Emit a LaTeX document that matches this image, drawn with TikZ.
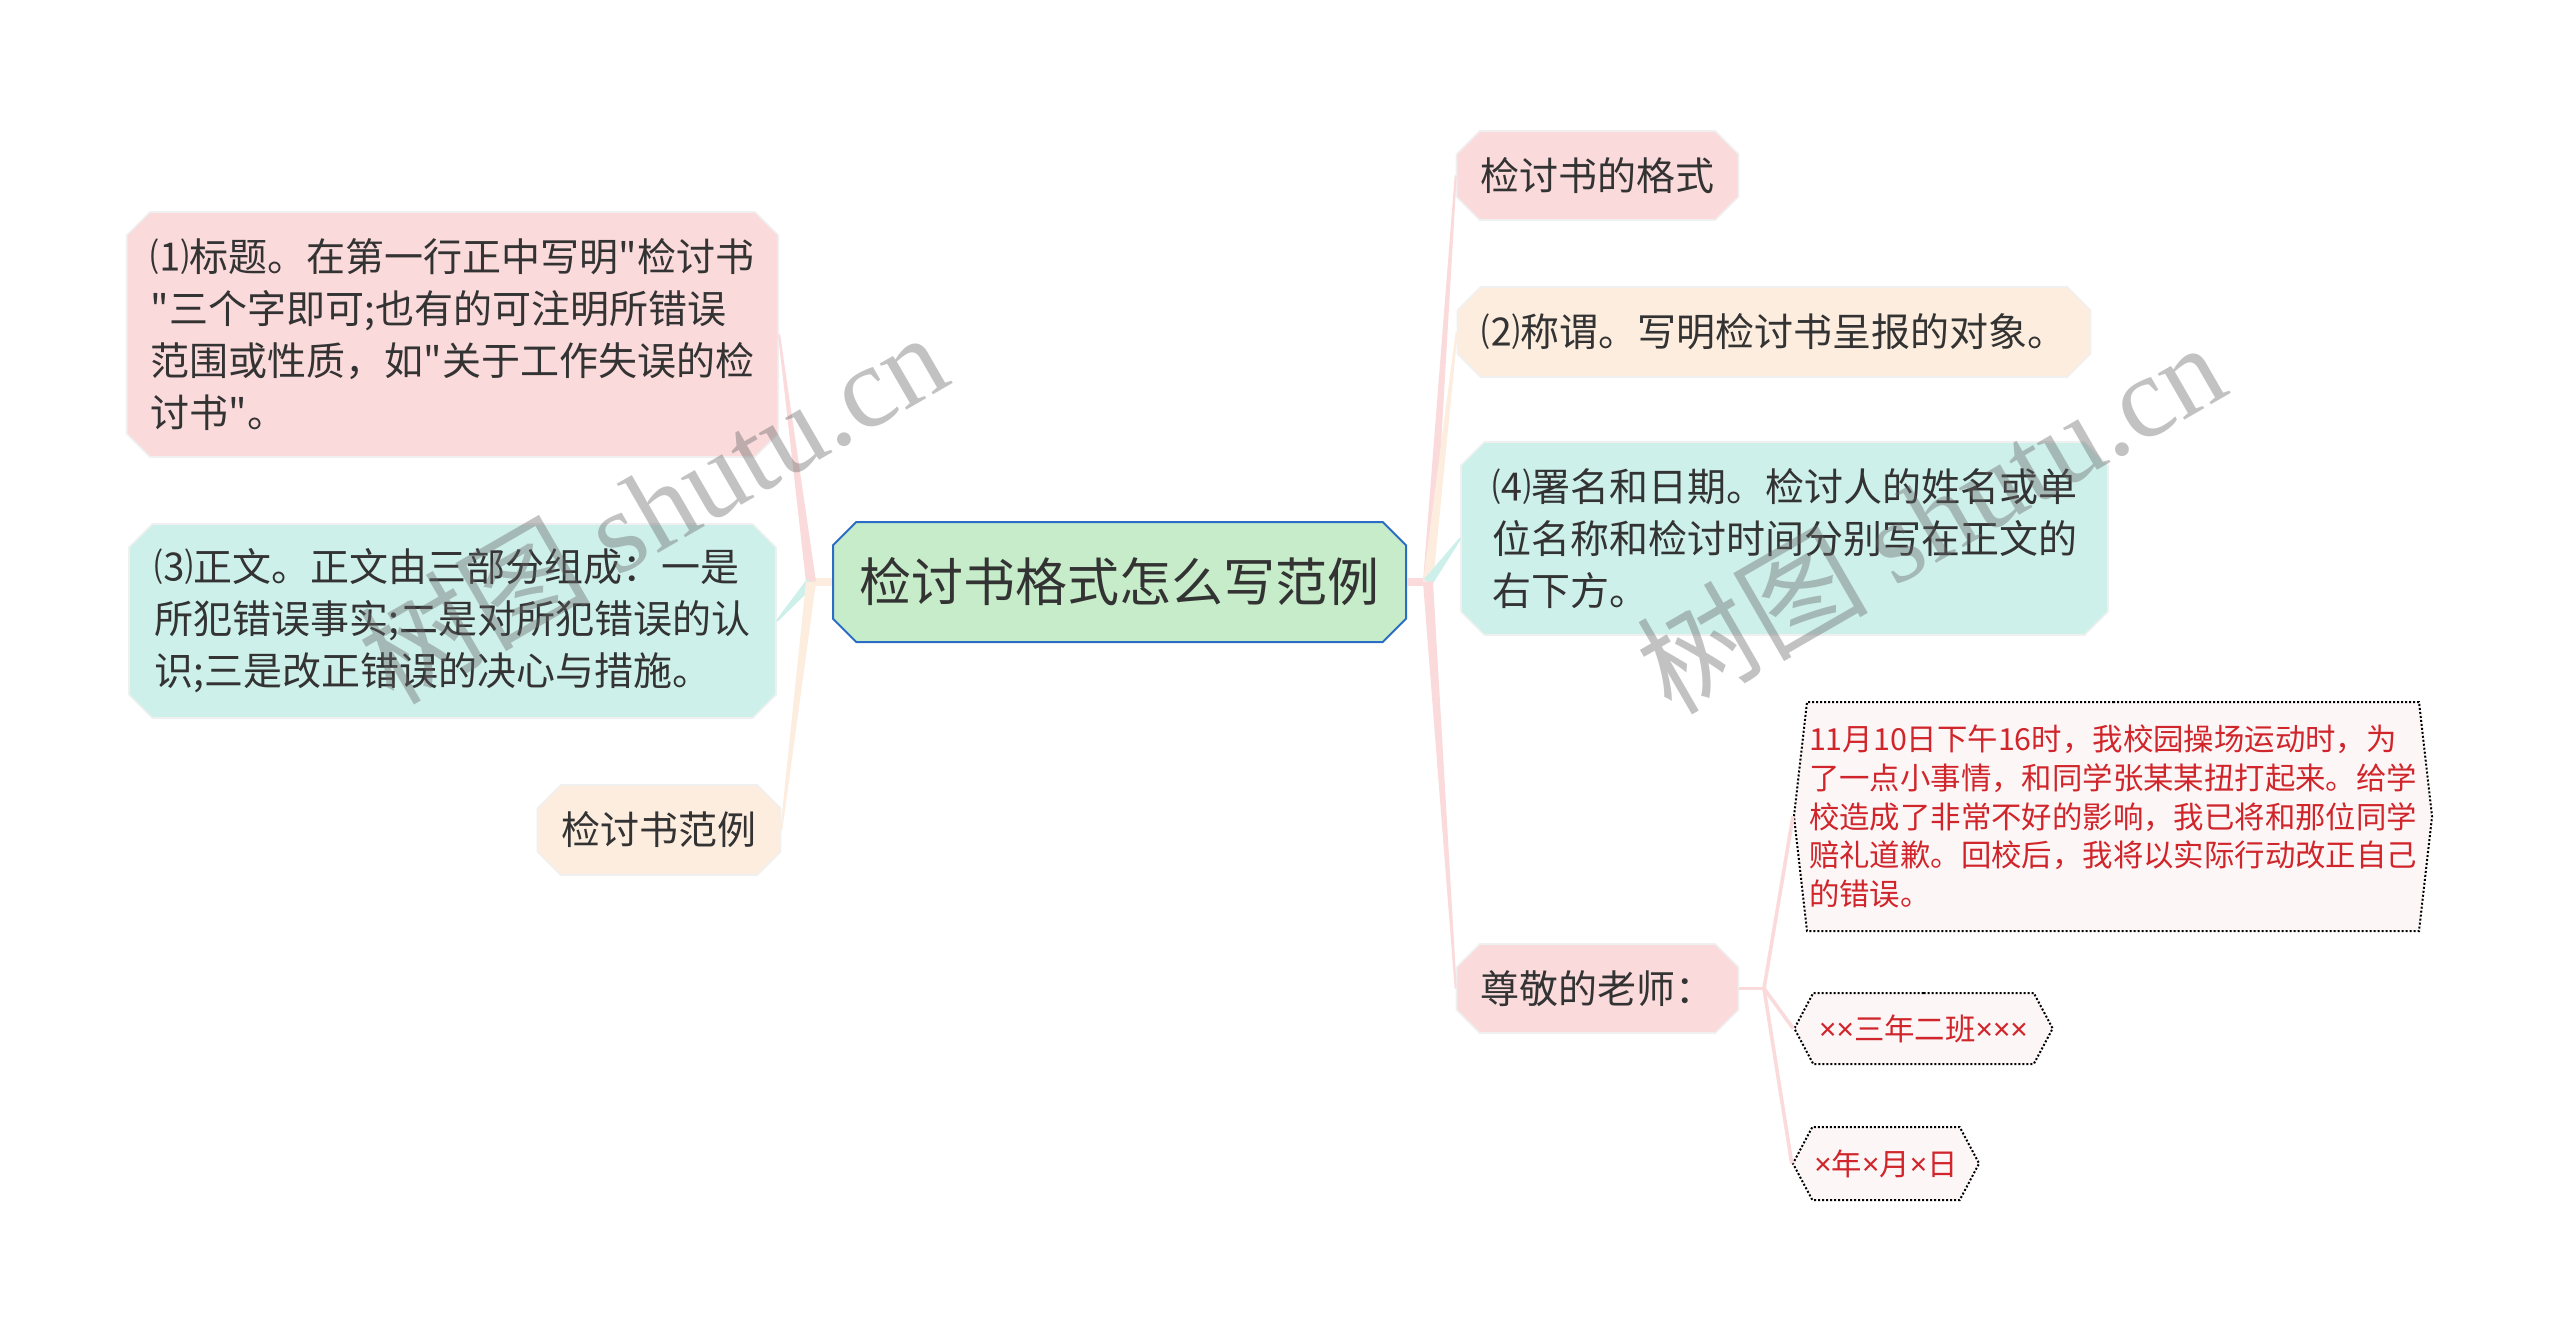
\documentclass[tikz,border=0pt]{standalone}
\usepackage{fontspec}
\setmainfont{Noto Sans CJK SC}[Ligatures=TeXOff]
\newfontfamily\markfont{Liberation Serif}
\newfontfamily\latinfont{Noto Sans}
\newcommand\cross{{\latinfont ×}}
\usetikzlibrary{positioning,calc,shapes.misc,shapes.symbols}
\definecolor{nodepink}{HTML}{FADADB}
\definecolor{nodepeach}{HTML}{FDEDDF}
\definecolor{nodecyan}{HTML}{CEF0EA}
\definecolor{rootgreen}{HTML}{C6ECC9}
\definecolor{rootblue}{HTML}{2B6CC4}
\definecolor{textgray}{HTML}{333333}
\definecolor{notered}{HTML}{D0252B}
\definecolor{notefill}{HTML}{FDF6F6}
\tikzset{>=latex}
\tikzset{
  topic/.style={chamfered rectangle, chamfered rectangle xsep=8pt, draw=black!6, line width=0.8pt,
    inner xsep=4pt, inner ysep=2pt, align=left, text=textgray, font=\fontsize{19.5}{26}\selectfont},
  note/.style={signal, signal to=west and east, draw=black, densely dotted, line width=1pt, fill=notefill,
    text=notered, inner xsep=1pt, inner ysep=2pt, align=left, font=\fontsize{15.2}{19.4}\selectfont},
  twig/.style={line width=1.8pt, nodepink},
  watermark/.style={rotate=30, text=black!60, opacity=0.4, font=\fontsize{58}{58}\selectfont}
}
\newcommand\branch[3]{\fill[#1] ($(#2)!2.5pt!90:(#3)$) -- ($(#3)!0.5pt!-90:(#2)$)
  -- ($(#3)!0.5pt!90:(#2)$) -- ($(#2)!2.5pt!-90:(#3)$) -- cycle;}

\begin{document}
\begin{tikzpicture}[x=0.5pt,y=-0.5pt]
\useasboundingbox (0,0) rectangle (2560,1328);
\node[topic, fill=rootgreen, draw=rootblue, line width=1pt, minimum width=286.5pt, minimum height=60pt,
  font=\fontsize{26}{30}\selectfont] (Root) at (1119.5,582) {检讨书格式怎么写范例};
\coordinate (RightFork) at (1428,582);
\coordinate (LeftFork) at (811,582);

\node[topic, fill=nodepink, minimum width=136.5pt, minimum height=44.5pt] (Format) at (1597.5,175.5) {检讨书的格式};
\node[topic, fill=nodepeach, minimum width=313pt, minimum height=45pt] (Salute) at (1774,332) {⑵称谓。写明检讨书呈报的对象。};
\node[topic, fill=nodecyan, minimum width=323.5pt, minimum height=96.5pt] (Sign) at (1784.5,538.5)
  {⑷署名和日期。检讨人的姓名或单\\位名称和检讨时间分别写在正文的\\右下方。};
\node[topic, fill=nodepink, minimum width=136.5pt, minimum height=44.5pt] (Teacher) at (1597.5,988.5) {尊敬的老师：};

\node[topic, fill=nodepink, minimum width=323.5pt, minimum height=122.5pt] (Title) at (452.5,334.5)
  {⑴标题。在第一行正中写明"检讨书\\"三个字即可;也有的可注明所错误\\范围或性质，如"关于工作失误的检\\讨书"。};
\node[topic, fill=nodecyan, minimum width=323.5pt, minimum height=97pt] (Body) at (452.5,621)
  {⑶正文。正文由三部分组成：一是\\所犯错误事实;二是对所犯错误的认\\识;三是改正错误的决心与措施。};
\node[topic, fill=nodepeach, minimum width=117pt, minimum height=45pt] (Sample) at (659,830) {检讨书范例};

\coordinate (NoteFork) at (1764,988.5);
\node[note, signal pointer angle=167, minimum height=114.5pt] (Story) at (2113,816.5)
  {11月10日下午16时，我校园操场运动时，为\\了一点小事情，和同学张某某扭打起来。给学\\校造成了非常不好的影响，我已将和那位同学\\赔礼道歉。回校后，我将以实际行动改正自己\\的错误。};
\node[note, signal pointer angle=124, minimum height=35.5pt, inner xsep=3pt] (Klass) at (1923.5,1028.5)
  {\cross\cross 三年二班\cross\cross\cross};
\node[note, signal pointer angle=124, minimum height=36.5pt, inner xsep=1pt] (Date) at (1886,1163.5)
  {\cross 年\cross 月\cross 日};

\draw[nodepink, line width=4pt] (Root.east) -- (RightFork);
\draw[nodepeach, line width=4pt] (Root.west) -- (LeftFork);
\branch{nodepink}{RightFork}{Format.west}
\branch{nodepeach}{RightFork}{Salute.west}
\branch{nodecyan}{RightFork}{Sign.west}
\branch{nodepink}{RightFork}{Teacher.west}
\branch{nodepink}{LeftFork}{Title.east}
\branch{nodecyan}{LeftFork}{Body.east}
\branch{nodepeach}{LeftFork}{Sample.east}

\draw[twig] (Teacher.east) -- (NoteFork);
\draw[twig] (NoteFork) -- (Story.west);
\draw[twig] (NoteFork) -- (Klass.west);
\draw[twig] (NoteFork) -- (Date.west);

\node[watermark] (MarkLeft) at (652,506) {树图 {\markfont shutu.cn}};
\node[watermark] (MarkRight) at (1930,516) {树图 {\markfont shutu.cn}};
\end{tikzpicture}
\end{document}
